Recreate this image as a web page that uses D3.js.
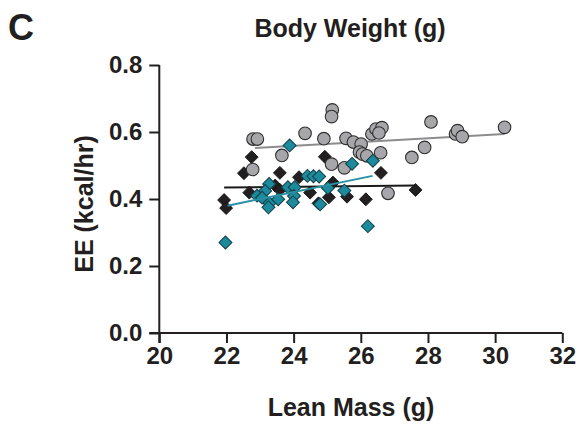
<!DOCTYPE html>
<html>
<head>
<meta charset="utf-8">
<script src="https://cdn.jsdelivr.net/npm/d3@7"></script>
<style>
  html, body { margin: 0; padding: 0; background: #fff; }
  svg { display: block; }
  text { font-family: "Liberation Sans", Arial, sans-serif; font-weight: bold; fill: #231f20; }
</style>
</head>
<body>
<svg id="chart" width="579" height="426"></svg>
<script>
// ---- Data ----
const panelLabel = "C";
const chartTitle = "Body Weight (g)";
const xTitle = "Lean Mass (g)";
const yTitle = "EE (kcal/hr)";
const xTicks = [20, 22, 24, 26, 28, 30, 32];
const yTicks = [0.0, 0.2, 0.4, 0.6, 0.8];

// Grey circles: [lean mass, EE]
const greyPoints = [
  [22.79, 0.579], [22.92, 0.579], [23.65, 0.530], [22.78, 0.488], [24.34, 0.596],
  [24.90, 0.580], [25.15, 0.666], [25.13, 0.646], [25.56, 0.581], [25.78, 0.570],
  [26.01, 0.564], [26.33, 0.594], [26.45, 0.609], [26.63, 0.613], [26.54, 0.597],
  [28.09, 0.630], [28.82, 0.594], [28.88, 0.604], [29.02, 0.586], [30.28, 0.614],
  [25.13, 0.504], [25.51, 0.493], [25.96, 0.540], [26.05, 0.534], [26.18, 0.529],
  [26.59, 0.538], [27.52, 0.524], [27.90, 0.554], [26.81, 0.417]
];
// Black diamonds
const blackPoints = [
  [21.93, 0.397], [21.99, 0.373], [22.75, 0.525], [22.52, 0.477], [22.68, 0.419],
  [23.59, 0.478], [23.45, 0.440], [23.59, 0.427], [24.16, 0.465], [24.49, 0.419],
  [24.74, 0.387], [24.93, 0.526], [25.17, 0.449], [25.05, 0.405], [25.59, 0.407],
  [26.15, 0.399], [26.60, 0.478], [27.63, 0.427]
];
// Teal diamonds
const tealPoints = [
  [23.88, 0.560], [21.97, 0.270], [23.27, 0.445], [23.15, 0.424], [22.91, 0.410],
  [23.06, 0.404], [23.28, 0.387], [23.25, 0.375], [23.54, 0.399], [23.83, 0.435],
  [24.03, 0.435], [24.01, 0.409], [23.98, 0.390], [24.41, 0.469], [24.59, 0.468],
  [24.76, 0.467], [24.79, 0.384], [25.02, 0.433], [25.51, 0.425], [25.74, 0.505],
  [26.36, 0.514], [26.21, 0.319]
];
// Regression line end points
const greyFit = [[22.85, 0.552], [30.28, 0.594]];
const blackFit = [[21.93, 0.434], [27.62, 0.440]];
const tealFit = [[22.03, 0.380], [26.35, 0.469]];

// ---- Drawing ----
const svg = d3.select("#chart");
const x = d3.scaleLinear().domain([20, 32]).range([159.3, 562.3]);
const y = d3.scaleLinear().domain([0, 0.8]).range([333, 65]);
const ink = "#231f20";

// axes
const xAxis = svg.append("g").attr("transform", "translate(0,333)")
  .call(d3.axisBottom(x).tickValues(xTicks).tickFormat(d3.format("d")).tickSizeOuter(0).tickSize(10).tickPadding(4));
const yAxis = svg.append("g").attr("transform", "translate(159.3,0)")
  .call(d3.axisLeft(y).tickValues(yTicks).tickFormat(d3.format(".1f")).tickSizeOuter(0).tickSize(10).tickPadding(7));
[xAxis, yAxis].forEach(a => {
  a.select(".domain").attr("stroke", ink).attr("stroke-width", 2);
  a.selectAll(".tick line").attr("stroke", ink).attr("stroke-width", 2);
  a.selectAll(".tick text").attr("font-size", 24).attr("fill", ink)
    .style("font-family", '"Liberation Sans", Arial, sans-serif').style("font-weight", "bold");
});
// axes overhang past the origin like the reference
yAxis.select(".domain").attr("d", `M0,${y(0.8)}V${y(0) + 10}`);
xAxis.select(".domain").attr("d", `M${x(20) - 10},0H${x(32)}`);

// regression lines
const line = d3.line().x(d => x(d[0])).y(d => y(d[1]));
svg.append("path").datum(greyFit).attr("d", line).attr("stroke", "#8c8c8e").attr("stroke-width", 2).attr("fill", "none");
svg.append("path").datum(blackFit).attr("d", line).attr("stroke", "#1a1a1a").attr("stroke-width", 2).attr("fill", "none");

const diamond = d3.symbol().type(d3.symbolSquare).size(84);

// black diamonds
svg.append("g").selectAll("path").data(blackPoints).join("path")
  .attr("d", diamond)
  .attr("transform", d => `translate(${x(d[0])},${y(d[1])}) rotate(45)`)
  .attr("fill", "#231f20").attr("stroke", "#111").attr("stroke-width", 0.8);

// grey circles
svg.append("g").selectAll("circle").data(greyPoints).join("circle")
  .attr("cx", d => x(d[0])).attr("cy", d => y(d[1])).attr("r", 6.3)
  .attr("fill", "#a7a7ab").attr("stroke", "#2f2f2f").attr("stroke-width", 1.1);

// teal diamonds
svg.append("g").selectAll("path").data(tealPoints).join("path")
  .attr("d", diamond)
  .attr("transform", d => `translate(${x(d[0])},${y(d[1])}) rotate(45)`)
  .attr("fill", "#1b8a9d").attr("stroke", "#133d45").attr("stroke-width", 1);

svg.append("path").datum(tealFit).attr("d", line).attr("stroke", "#2a90a3").attr("stroke-width", 2).attr("fill", "none");

// titles
svg.append("text").attr("x", 8).attr("y", 40).attr("font-size", 36).text(panelLabel);
svg.append("text").attr("x", 350).attr("y", 37).attr("text-anchor", "middle").attr("font-size", 25).text(chartTitle);
svg.append("text").attr("x", 351).attr("y", 416).attr("text-anchor", "middle").attr("font-size", 25).text(xTitle);
svg.append("text").attr("transform", "translate(93,204) rotate(-90)").attr("text-anchor", "middle").attr("font-size", 25).text(yTitle);
</script>
</body>
</html>
